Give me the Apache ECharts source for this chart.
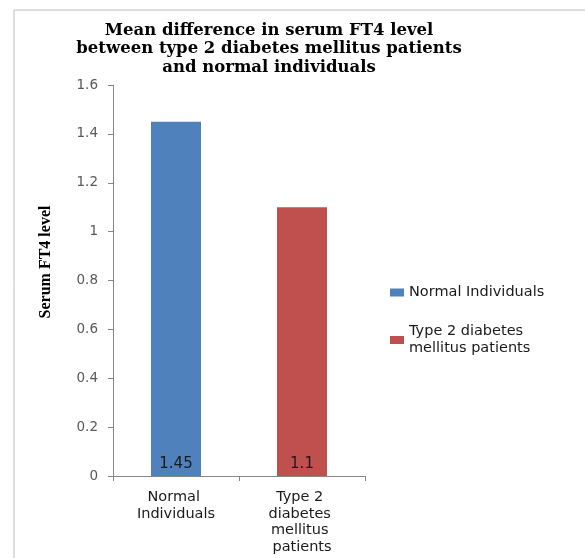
<!DOCTYPE html>
<html>
<head>
<meta charset="utf-8">
<script src="https://cdn.jsdelivr.net/npm/echarts@6/dist/echarts.min.js"></script>
<style>
  html, body { margin: 0; padding: 0; background: #fff; }
  #chart { width: 585px; height: 558px; }
</style>
</head>
<body>
<div id="chart"></div>
<script>
// Groups compared and their mean serum FT4 levels
const categories = ['Normal Individuals', 'Type 2 diabetes mellitus patients'];
const meanFT4 = [1.45, 1.1];
const seriesColors = ['#4f81bd', '#c0504d'];
const yTicks = { min: 0, max: 1.6, interval: 0.2 };
const yAxisTitle = 'Serum FT4 level';

const chart = echarts.init(document.getElementById('chart'));

// One series per group so each gets its own legend entry
const series = categories.map((name, i) => ({
  name: name,
  type: 'bar',
  barWidth: 50,
  barGap: '-100%',
  itemStyle: { color: seriesColors[i] },
  label: {
    show: true,
    position: 'insideBottom',
    distance: 4,
    color: '#1a1a1a',
    fontFamily: 'DejaVu Sans',
    fontSize: 15
  },
  data: meanFT4.map((v, j) => (j === i ? v : '-'))
}));

chart.setOption({
  animation: false,
  backgroundColor: '#ffffff',
  graphic: [
    {
      type: 'rect',
      shape: { x: 14, y: 10, width: 600, height: 600 },
      style: { fill: 'none', stroke: '#bfbfbf', lineWidth: 1 },
      silent: true
    },
    {
      type: 'text',
      x: 46,
      y: 262,
      rotation: Math.PI / 2,
      style: {
        text: yAxisTitle,
        align: 'center',
        verticalAlign: 'middle',
        fontFamily: 'Liberation Serif',
        fontWeight: 'bold',
        fontSize: 16,
        fill: '#000'
      },
      silent: true
    }
  ],
  title: {
    text: 'Mean difference in serum FT4 level\nbetween type 2 diabetes mellitus patients\nand normal individuals',
    left: 264,
    top: 16,
    textAlign: 'center',
    textStyle: {
      fontFamily: 'DejaVu Serif',
      fontWeight: 'bold',
      fontSize: 16.5,
      lineHeight: 18.5,
      color: '#000'
    }
  },
  legend: {
    orient: 'vertical',
    left: 390,
    top: 284,
    padding: 0,
    itemWidth: 14,
    itemHeight: 8,
    itemGap: 22,
    icon: 'rect',
    textStyle: {
      fontFamily: 'DejaVu Sans',
      fontSize: 14.5,
      color: '#1a1a1a',
      width: 175,
      overflow: 'break',
      lineHeight: 17
    }
  },
  grid: { left: 113, right: 220, top: 85, bottom: 82 },
  xAxis: {
    type: 'category',
    data: categories,
    axisLine: { lineStyle: { color: '#868686' } },
    axisTick: { show: true, length: 5, alignWithLabel: false, lineStyle: { color: '#868686' } },
    axisLabel: {
      interval: 0,
      margin: 13,
      width: 84,
      overflow: 'break',
      lineHeight: 16.5,
      fontFamily: 'DejaVu Sans',
      fontSize: 14.5,
      color: '#1a1a1a'
    }
  },
  yAxis: {
    type: 'value',
    min: yTicks.min,
    max: yTicks.max,
    interval: yTicks.interval,
    axisLine: { show: true, lineStyle: { color: '#868686' } },
    axisTick: { show: true, length: 5, lineStyle: { color: '#868686' } },
    splitLine: { show: false },
    axisLabel: {
      margin: 15,
      fontFamily: 'DejaVu Sans',
      fontSize: 13.5,
      color: '#595959',
      formatter: v => String(Math.round(v * 10) / 10)
    }
  },
  series: series
});
</script>
</body>
</html>
